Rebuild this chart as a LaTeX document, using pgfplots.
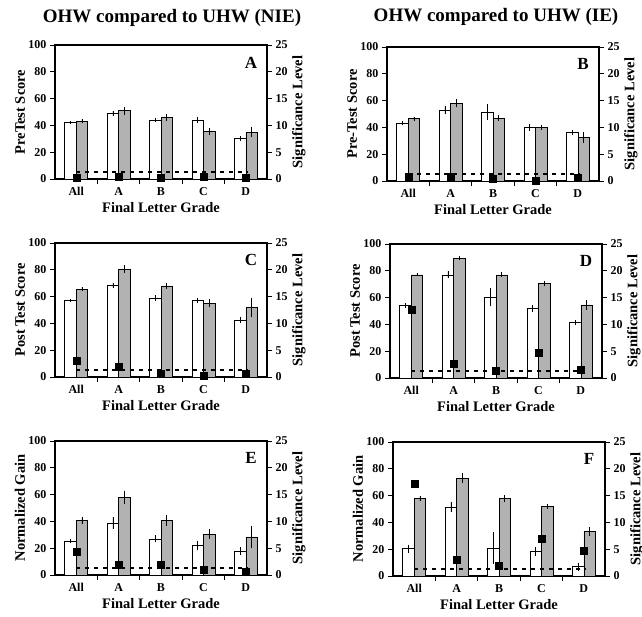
\documentclass[border=0pt]{standalone}
\usepackage{fontspec}
\setmainfont{Liberation Serif}
\usepackage{pgfplots}
\usepackage{pgfplotstable}
\pgfplotsset{compat=1.18}
\definecolor{bargray}{RGB}{178,178,178}

\pgfplotstableread{
x w we g ge s
0 42 1 43 1.5 0.3
1 49 2 51 3 0.4
2 44 1.5 46 2.5 0.3
3 44 2 35.5 2.5 0.5
4 30 2 35 4 0.3
}\tA
\pgfplotstableread{
x w we g ge s
0 43 1.5 46.5 1.5 0.8
1 53 3 58 3 0.8
2 51.5 6 47 2 0.4
3 40 2.5 40 2 0.1
4 36 2 32.5 4 0.6
}\tB
\pgfplotstableread{
x w we g ge s
0 57 1 65.5 1.5 3.0
1 68.5 2 80.5 3 2.0
2 59 2 68 2.5 0.6
3 57 2 55 3 0.2
4 42.5 2.5 52 7 0.6
}\tC
\pgfplotstableread{
x w we g ge s
0 54 2 77 1 12.8
1 77 2.5 89.5 1.5 2.7
2 60.5 7 77 2 1.3
3 52 2.5 70.5 2 4.7
4 41.5 2 54.5 3.5 1.6
}\tD
\pgfplotstableread{
x w we g ge s
0 25.5 1.5 40.5 2.5 4.3
1 38.5 4.5 58 5 1.85
2 27 2.5 40.5 4 1.85
3 22 3.5 30.5 3.5 0.9
4 18 3 28.5 8 0.6
}\tE
\pgfplotstableread{
x w we g ge s
0 20.5 3 58 2 17.2
1 51.5 4 73 3.5 3.1
2 21 12 58 2.5 2.0
3 18.5 3.5 52 2 7.0
4 7 3 33 3.5 4.8
}\tF

\pgfplotsset{
  panel/.style={width=212pt,height=134pt,scale only axis,
    xmin=-0.5,xmax=4.5, anchor=north west,
    /pgf/number format/assume math mode=true,
    tick label style={font=\bfseries\fontsize{12}{12}\selectfont},
    label style={font=\bfseries\fontsize{14.5}{16}\selectfont},
    tick align=outside, major tick length=5pt, minor tick length=5pt,
    axis line style={line width=1.1pt}, tick style={black,line width=0.8pt}},
  leftax/.style={panel, ymin=0,ymax=100, ytick={0,20,...,100}, ytick pos=left,
    xtick={0,...,4}, xticklabels={All,A,B,C,D}, xtick pos=bottom,
    major x tick style={draw=none}, minor xtick={0.5,1.5,2.5,3.5},
    ylabel style={at={(axis description cs:-0.165,0.5)},anchor=center},
    xlabel style={at={(axis description cs:0.5,-0.21)},anchor=center},
    xlabel={Final Letter Grade}},
  rightax/.style={panel, ymin=0,ymax=25, ytick={0,5,...,25},
    axis y line*=right, axis x line=none, clip=false,
    ylabel={Significance Level},
    ylabel style={at={(axis description cs:1.15,0.5)},anchor=center}},
  wbar/.style={ybar, bar width=0.27, bar shift=0, fill=white, draw=black, line width=0.6pt,
    error bars/.cd, y dir=both, y explicit, error mark=none, error bar style={black,line width=0.6pt}},
  gbar/.style={ybar, bar width=0.27, bar shift=0, fill=bargray, draw=black, line width=0.6pt,
    error bars/.cd, y dir=both, y explicit, error mark=none, error bar style={black,line width=0.6pt}},
  sigline/.style={black, line width=1.3pt, dash pattern=on 4pt off 5pt},
  sigmark/.style={only marks, mark=square*, mark size=3.5pt, black},
}

\newcommand{\panel}[4]{%
  \begin{axis}[leftax, at={#1}, ylabel={#3}]
    \addplot[wbar] table[x expr=\thisrow{x}-0.135,y=w,y error=we]{#2};
    \addplot[gbar] table[x expr=\thisrow{x}+0.135,y=g,y error=ge]{#2};
    \node[font=\bfseries\fontsize{17}{17}\selectfont] at (rel axis cs:0.925,0.87) {#4};
  \end{axis}
  \begin{axis}[rightax, at={#1}]
    \addplot[sigline] coordinates {(0,1.3) (4.05,1.3)};
    \addplot[sigmark] table[x=x,y=s]{#2};
  \end{axis}%
}

\begin{document}
\begin{tikzpicture}
\path[use as bounding box] (0,0) rectangle (642pt,-617pt);
\node[font=\bfseries\fontsize{19}{22}\selectfont] at (172pt,-18pt) {OHW compared to UHW (NIE)};
\node[font=\bfseries\fontsize{19}{22}\selectfont] at (496pt,-17pt) {OHW compared to UHW (IE)};
\panel{(55pt,-45pt)}{\tA}{PreTest Score}{A}
\panel{(387pt,-47pt)}{\tB}{Pre-Test Score}{B}
\panel{(55pt,-243pt)}{\tC}{Post Test Score}{C}
\panel{(390pt,-244pt)}{\tD}{Post Test Score}{D}
\panel{(55pt,-441pt)}{\tE}{Normalized Gain}{E}
\panel{(393pt,-442pt)}{\tF}{Normalized Gain}{F}
\end{tikzpicture}
\end{document}
